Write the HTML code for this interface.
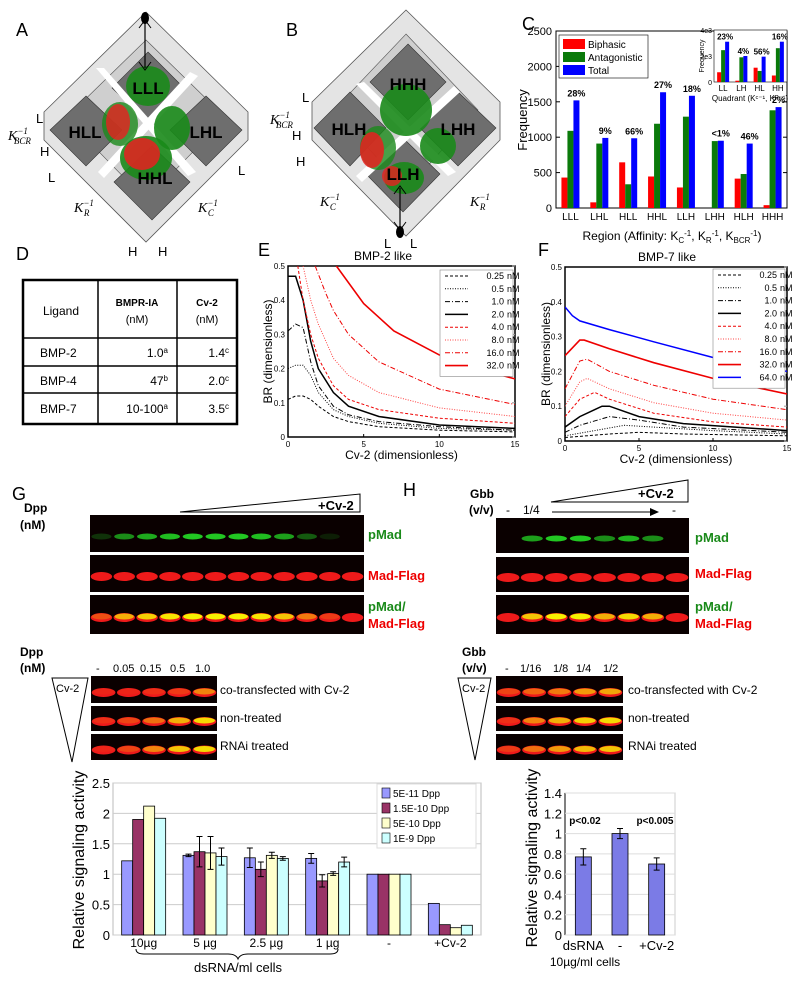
<!DOCTYPE html>
<html><head><meta charset="utf-8"><style>
html,body{margin:0;padding:0;background:#fff;}
svg{display:block;font-family:"Liberation Sans",sans-serif;}
</style></head><body>
<svg id="fig" width="800" height="981" viewBox="0 0 800 981" xmlns="http://www.w3.org/2000/svg">
<g>
<text x="16" y="36" font-size="18">A</text>
<polygon points="146,12 248,112 248,140 146,242 44,140 44,112" fill="#e4e4e4" stroke="#555" stroke-width="0.8"/>
<polygon points="146,40 226,118 146,200 66,118" fill="#cfcfcf" stroke="#555" stroke-width="0.6"/>
<polygon points="148,52 184,88 148,122 112,88" fill="#6e6e6e" stroke="#333" stroke-width="0.6"/>
<polygon points="86,96 122,130 86,166 50,130" fill="#6e6e6e" stroke="#333" stroke-width="0.6"/>
<polygon points="206,96 242,130 206,166 170,130" fill="#6e6e6e" stroke="#333" stroke-width="0.6"/>
<polygon points="152,146 190,182 152,220 114,182" fill="#6e6e6e" stroke="#333" stroke-width="0.6"/>
<polygon points="96,68 104,68 196,172 188,176" fill="#fff"/>
<polygon points="190,72 198,76 104,178 98,172" fill="#fff"/>
<ellipse cx="148" cy="86" rx="22" ry="20" fill="#1a8a1a" opacity="0.9"/>
<ellipse cx="172" cy="128" rx="18" ry="22" fill="#1a8a1a" opacity="0.9"/>
<ellipse cx="120" cy="124" rx="18" ry="22" fill="#1a8a1a" opacity="0.8"/>
<ellipse cx="118" cy="122" rx="12" ry="18" fill="#e82020" opacity="0.8"/>
<ellipse cx="146" cy="158" rx="26" ry="22" fill="#1a8a1a" opacity="0.9"/>
<ellipse cx="142" cy="154" rx="18" ry="16" fill="#e82020" opacity="0.85"/>
<text x="148" y="94" font-size="17" font-weight="bold" text-anchor="middle">LLL</text>
<text x="85" y="138" font-size="17" font-weight="bold" text-anchor="middle">HLL</text>
<text x="206" y="138" font-size="17" font-weight="bold" text-anchor="middle">LHL</text>
<text x="155" y="184" font-size="17" font-weight="bold" text-anchor="middle">HHL</text>
<line x1="145" y1="22" x2="145" y2="68" stroke="#000" stroke-width="1.2"/>
<path d="M139,28 L145,20 L151,28 M139,62 L145,70 L151,62" stroke="#000" fill="none"/>
<ellipse cx="145" cy="18" rx="4" ry="6" fill="#000"/>
<text x="36" y="123" font-size="13">L</text>
<text x="8" y="140" font-size="14" font-style="italic" font-family="Liberation Serif">K<tspan font-size="9" dy="-6">−1</tspan><tspan font-size="9" dx="-14" dy="10">BCR</tspan></text>
<text x="40" y="156" font-size="13">H</text>
<text x="48" y="182" font-size="13">L</text>
<text x="74" y="212" font-size="14" font-style="italic" font-family="Liberation Serif">K<tspan font-size="9" dy="-6">−1</tspan><tspan font-size="9" dx="-10" dy="10">R</tspan></text>
<text x="198" y="212" font-size="14" font-style="italic" font-family="Liberation Serif">K<tspan font-size="9" dy="-6">−1</tspan><tspan font-size="9" dx="-10" dy="10">C</tspan></text>
<text x="238" y="175" font-size="13">L</text>
<text x="128" y="256" font-size="13">H</text>
<text x="158" y="256" font-size="13">H</text>
</g>
<g>
<text x="286" y="36" font-size="18">B</text>
<polygon points="406,10 500,102 500,140 406,236 312,140 312,102" fill="#e4e4e4" stroke="#555" stroke-width="0.8"/>
<polygon points="406,34 478,110 406,190 334,110" fill="#cfcfcf" stroke="#555" stroke-width="0.6"/>
<polygon points="408,44 446,82 408,120 370,82" fill="#6e6e6e" stroke="#333" stroke-width="0.6"/>
<polygon points="350,92 386,128 350,166 314,128" fill="#6e6e6e" stroke="#333" stroke-width="0.6"/>
<polygon points="458,92 496,128 458,166 420,128" fill="#6e6e6e" stroke="#333" stroke-width="0.6"/>
<polygon points="403,138 440,174 403,212 366,174" fill="#6e6e6e" stroke="#333" stroke-width="0.6"/>
<polygon points="356,84 364,82 456,172 448,176" fill="#fff"/>
<polygon points="454,86 460,92 362,182 356,176" fill="#fff"/>
<ellipse cx="406" cy="110" rx="26" ry="26" fill="#1a8a1a" opacity="0.9"/>
<ellipse cx="438" cy="146" rx="18" ry="18" fill="#1a8a1a" opacity="0.9"/>
<ellipse cx="378" cy="148" rx="18" ry="22" fill="#1a8a1a" opacity="0.8"/>
<ellipse cx="372" cy="150" rx="12" ry="18" fill="#e82020" opacity="0.85"/>
<ellipse cx="404" cy="178" rx="20" ry="16" fill="#1a8a1a" opacity="0.9"/>
<ellipse cx="392" cy="176" rx="10" ry="10" fill="#e82020" opacity="0.8"/>
<text x="408" y="90" font-size="17" font-weight="bold" text-anchor="middle">HHH</text>
<text x="349" y="135" font-size="17" font-weight="bold" text-anchor="middle">HLH</text>
<text x="458" y="135" font-size="17" font-weight="bold" text-anchor="middle">LHH</text>
<text x="403" y="180" font-size="17" font-weight="bold" text-anchor="middle">LLH</text>
<line x1="400" y1="188" x2="400" y2="228" stroke="#000" stroke-width="1.2"/>
<path d="M394,194 L400,186 L406,194 M394,222 L400,230 L406,222" stroke="#000" fill="none"/>
<ellipse cx="400" cy="232" rx="4" ry="6" fill="#000"/>
<text x="302" y="102" font-size="13">L</text>
<text x="270" y="124" font-size="14" font-style="italic" font-family="Liberation Serif">K<tspan font-size="9" dy="-6">−1</tspan><tspan font-size="9" dx="-14" dy="10">BCR</tspan></text>
<text x="292" y="140" font-size="13">H</text>
<text x="296" y="166" font-size="13">H</text>
<text x="320" y="206" font-size="14" font-style="italic" font-family="Liberation Serif">K<tspan font-size="9" dy="-6">−1</tspan><tspan font-size="9" dx="-10" dy="10">C</tspan></text>
<text x="470" y="206" font-size="14" font-style="italic" font-family="Liberation Serif">K<tspan font-size="9" dy="-6">−1</tspan><tspan font-size="9" dx="-10" dy="10">R</tspan></text>
<text x="384" y="248" font-size="13">L</text>
<text x="410" y="248" font-size="13">L</text>
</g>
<g>
<text x="522" y="30" font-size="18">C</text>
<g id="chartC"></g>
</g>
<g font-size="12">
<text x="16" y="260" font-size="18">D</text>
<rect x="23" y="280" width="214" height="144" fill="#fff" stroke="#000" stroke-width="2.5"/>
<line x1="98" y1="280" x2="98" y2="424" stroke="#000" stroke-width="1.5"/>
<line x1="177" y1="280" x2="177" y2="424" stroke="#000" stroke-width="1.5"/>
<line x1="23" y1="338" x2="237" y2="338" stroke="#000" stroke-width="1.5"/>
<line x1="23" y1="366" x2="237" y2="366" stroke="#000" stroke-width="1.5"/>
<line x1="23" y1="393" x2="237" y2="393" stroke="#000" stroke-width="1.5"/>
<text x="61" y="315" text-anchor="middle">Ligand</text>
<text x="137" y="306" text-anchor="middle" font-weight="bold" font-size="10">BMPR-IA</text>
<text x="137" y="323" text-anchor="middle" font-size="11">(nM)</text>
<text x="207" y="306" text-anchor="middle" font-weight="bold" font-size="10">Cv-2</text>
<text x="207" y="323" text-anchor="middle" font-size="11">(nM)</text>
<text x="40" y="357">BMP-2</text><text x="40" y="385">BMP-4</text><text x="40" y="413">BMP-7</text>
<text x="168" y="357" text-anchor="end">1.0<tspan font-size="8" dy="-4">a</tspan></text>
<text x="168" y="385" text-anchor="end">47<tspan font-size="8" dy="-4">b</tspan></text>
<text x="168" y="413" text-anchor="end">10-100<tspan font-size="8" dy="-4">a</tspan></text>
<text x="229" y="357" text-anchor="end">1.4<tspan font-size="8" dy="-4">c</tspan></text>
<text x="229" y="385" text-anchor="end">2.0<tspan font-size="8" dy="-4">c</tspan></text>
<text x="229" y="413" text-anchor="end">3.5<tspan font-size="8" dy="-4">c</tspan></text>
</g>
<g>
<text x="258" y="256" font-size="18">E</text>
<g id="chartE"></g>
</g>
<g>
<text x="538" y="256" font-size="18">F</text>
<g id="chartF"></g>
</g>
<g font-weight="bold" font-size="12">
<text x="12" y="500" font-size="18" font-weight="normal">G</text>
<text x="24" y="512">Dpp</text><text x="20" y="529">(nM)</text>
<text x="97" y="529" font-weight="normal">-</text>
<text x="113" y="529" font-weight="normal">0.5</text>
<text x="144" y="529" font-weight="normal">1</text>
<text x="166" y="529" font-weight="normal">2</text>
<polygon points="180,512 360,494 360,512" fill="#fff" stroke="#000"/>
<text x="318" y="510" font-size="13">+Cv-2</text>
<line x1="180" y1="525" x2="348" y2="525" stroke="#000"/>
<polygon points="348,521 356,525 348,529" fill="#000"/>
<text x="340" y="530" font-weight="normal">-</text>
<text x="368" y="539" fill="#1a8a1a" font-size="13">pMad</text>
<text x="368" y="580" fill="#e00" font-size="13">Mad-Flag</text>
<text x="368" y="611" fill="#1a8a1a" font-size="13">pMad/</text>
<text x="368" y="628" fill="#e00" font-size="13">Mad-Flag</text>
<text x="20" y="656">Dpp</text><text x="20" y="672">(nM)</text>
<g font-weight="normal" font-size="11"><text x="96" y="672">-</text><text x="113" y="672">0.05</text><text x="140" y="672">0.15</text><text x="170" y="672">0.5</text><text x="195" y="672">1.0</text></g>
<polygon points="52,678 88,678 72,762" fill="#fff" stroke="#000"/>
<text x="56" y="692" font-weight="normal" font-size="11">Cv-2</text>
<g font-weight="normal" font-size="12"><text x="220" y="694">co-transfected with Cv-2</text><text x="220" y="722">non-treated</text><text x="220" y="750">RNAi treated</text></g>
</g>
<g font-weight="bold" font-size="12">
<text x="403" y="496" font-size="18" font-weight="normal">H</text>
<text x="470" y="498">Gbb</text><text x="469" y="514">(v/v)</text>
<text x="506" y="514" font-weight="normal">-</text><text x="523" y="514" font-weight="normal">1/4</text>
<polygon points="551,502 688,480 688,502" fill="#fff" stroke="#000"/>
<text x="638" y="498" font-size="13">+Cv-2</text>
<line x1="552" y1="512" x2="650" y2="512" stroke="#000"/>
<polygon points="650,508 659,512 650,516" fill="#000"/>
<text x="672" y="514" font-weight="normal">-</text>
<text x="695" y="542" fill="#1a8a1a" font-size="13">pMad</text>
<text x="695" y="578" fill="#e00" font-size="13">Mad-Flag</text>
<text x="695" y="611" fill="#1a8a1a" font-size="13">pMad/</text>
<text x="695" y="628" fill="#e00" font-size="13">Mad-Flag</text>
<text x="462" y="656">Gbb</text><text x="462" y="672">(v/v)</text>
<g font-weight="normal" font-size="11"><text x="505" y="672">-</text><text x="520" y="672">1/16</text><text x="553" y="672">1/8</text><text x="576" y="672">1/4</text><text x="603" y="672">1/2</text></g>
<polygon points="458,678 491,678 475,760" fill="#fff" stroke="#000"/>
<text x="462" y="692" font-weight="normal" font-size="11">Cv-2</text>
<g font-weight="normal" font-size="12"><text x="628" y="694">co-transfected with Cv-2</text><text x="628" y="722">non-treated</text><text x="628" y="750">RNAi treated</text></g>
</g>
<g id="blots"></g>
<g id="chartG"></g>
<g id="chartH"></g>
</svg>
<script>
const regions = ["LLL","LHL","HLL","HHL","LLH","LHH","HLH","HHH"];
const biphasic = [430,80,645,445,290,0,415,40];
const antagonistic = [1090,910,335,1190,1290,945,480,1380];
const total = [1520,990,985,1635,1585,950,910,1425];
const pctLabels = ["28%","9%","66%","27%","18%","<1%","46%","2%"];
const freqTicks = [0,500,1000,1500,2000,2500];
const quadrants = ["LL","LH","HL","HH"];
const inBiphasic = [750,100,1100,500];
const inAntag = [2450,1900,850,2600];
const inTotal = [3100,2000,1950,3100];
const inPct = ["23%","4%","56%","16%"];
const eSeriesNames = ["0.25","0.5","1.0","2.0","4.0","8.0","16.0","32.0"];
const e025 = [[0,0.11],[0.5,0.12],[1,0.12],[1.5,0.11],[2,0.09],[3,0.06],[4,0.045],[6,0.03],[10,0.02],[15,0.015]];
const e05 = [[0,0.2],[0.5,0.21],[1,0.21],[1.5,0.18],[2,0.13],[3,0.08],[4,0.06],[6,0.04],[10,0.025],[15,0.02]];
const e1 = [[0,0.31],[0.5,0.33],[1,0.32],[1.5,0.22],[2,0.15],[3,0.09],[4,0.065],[6,0.045],[10,0.03],[15,0.02]];
const e2 = [[0,0.47],[0.5,0.47],[1,0.4],[1.5,0.28],[2,0.2],[3,0.13],[4,0.09],[6,0.06],[10,0.035],[15,0.025]];
const e4 = [[0.65,0.5],[1,0.4],[1.5,0.3],[2,0.23],[3,0.15],[4,0.11],[6,0.08],[10,0.055],[15,0.04]];
const e8 = [[1.0,0.5],[1.5,0.4],[2,0.33],[3,0.23],[4,0.18],[6,0.13],[10,0.085],[15,0.06]];
const e16 = [[1.8,0.5],[2.5,0.42],[3,0.37],[4,0.3],[6,0.22],[10,0.14],[15,0.095]];
const e32 = [[3.2,0.5],[5,0.39],[7,0.31],[10,0.24],[12.5,0.2],[15,0.17]];
const fSeriesNames = ["0.25","0.5","1.0","2.0","4.0","8.0","16.0","32.0","64.0"];
const f025 = [[0,0.01],[3,0.02],[5,0.025],[8,0.02],[15,0.015]];
const f05 = [[0,0.015],[2,0.03],[4,0.045],[6,0.04],[10,0.03],[15,0.02]];
const f1 = [[0,0.025],[1,0.045],[3,0.07],[5,0.06],[8,0.04],[15,0.025]];
const f2 = [[0,0.04],[1,0.07],[2,0.09],[2.5,0.1],[3,0.1],[5,0.07],[8,0.05],[15,0.03]];
const f4 = [[0,0.07],[1,0.12],[2,0.14],[3,0.12],[6,0.08],[10,0.055],[15,0.04]];
const f8 = [[0,0.1],[1,0.17],[1.5,0.18],[3,0.15],[6,0.11],[10,0.08],[15,0.06]];
const f16 = [[0,0.15],[1,0.23],[1.5,0.235],[3,0.2],[6,0.16],[10,0.12],[15,0.09]];
const f32 = [[0,0.245],[1,0.29],[1.3,0.29],[3,0.265],[6,0.225],[10,0.18],[15,0.135]];
const f64 = [[0,0.385],[0.5,0.36],[1,0.345],[3,0.32],[6,0.285],[10,0.24],[15,0.2]];
const brTicks = [0,0.1,0.2,0.3,0.4,0.5];
const cvTicks = [0,5,10,15];
const gGroups = ["10µg","5 µg","2.5 µg","1 µg","-","+Cv-2"];
const gSeriesNames = ["5E-11 Dpp","1.5E-10 Dpp","5E-10 Dpp","1E-9 Dpp"];
const g5e11 = [1.22,1.31,1.27,1.26,1,0.52];
const g15e10 = [1.9,1.37,1.08,0.89,1,0.17];
const g5e10 = [2.12,1.35,1.31,1.01,1,0.12];
const g1e9 = [1.92,1.29,1.26,1.2,1,0.16];
const gErr5e11 = [0,0.02,0.16,0.08,0,0];
const gErr15e10 = [0,0.25,0.12,0.1,0,0];
const gErr5e10 = [0,0.27,0.05,0.03,0,0];
const gErr1e9 = [0,0.14,0.03,0.08,0,0];
const gTicks = [0,0.5,1,1.5,2,2.5];
const hCats = ["dsRNA","-","+Cv-2"];
const hVals = [0.77,1.0,0.7];
const hErr = [0.08,0.05,0.06];
const hTicks = [0,0.2,0.4,0.6,0.8,1,1.2,1.4];
const gTopGreen = [0.25,0.7,0.85,0.95,1,1,1,0.95,0.8,0.45,0.15,0];
const hTopGreen = [0,0.8,1,1,0.7,0.9,0.7,0];
const gSmallCo = [0.05,0.05,0.1,0.15,0.5];
const gSmallNon = [0.1,0.2,0.4,0.7,0.9];
const gSmallRnai = [0.05,0.2,0.5,0.8,0.9];
const hSmallCo = [0.2,0.35,0.45,0.6,0.65];
const hSmallNon = [0.1,0.5,0.7,0.85,0.9];
const hSmallRnai = [0.15,0.4,0.6,0.75,0.8];

const NS="http://www.w3.org/2000/svg";
function mk(parent,tag,attrs,text){const e=document.createElementNS(NS,tag);for(const k in attrs)e.setAttribute(k,attrs[k]);if(text!==undefined)e.textContent=text;parent.appendChild(e);return e;}
function lin(d0,d1,r0,r1){return v=>r0+(v-d0)/(d1-d0)*(r1-r0);}

(function(){
 const g=document.getElementById('chartC');
 const L=556,R=787,T=31,B=208;
 const y=lin(0,2500,B,T);
 const band=(R-L)/regions.length;
 const x=i=>L+band*(i+0.5);
 mk(g,'rect',{x:L,y:T,width:R-L,height:B-T,fill:'#fff',stroke:'#000','stroke-width':1});
 freqTicks.forEach(t=>{mk(g,'line',{x1:L,x2:L+4,y1:y(t),y2:y(t),stroke:'#000'});mk(g,'line',{x1:R,x2:R-4,y1:y(t),y2:y(t),stroke:'#000'});
  mk(g,'text',{x:L-4,y:y(t)+4,'font-size':11,'text-anchor':'end'},String(t));});
 const yl=mk(g,'text',{x:527,y:120,'font-size':13,'text-anchor':'middle',transform:'rotate(-90 527 120)'},'Frequency');
 
 
 const w=6;
 regions.forEach((r,i)=>{
  const cx=x(i);
  [[biphasic,'#f00',-w],[antagonistic,'#0a7a0a',0],[total,'#00f',w]].forEach(([arr,c,off])=>{
   const b=mk(g,'rect',{x:cx+off-w/2,y:y(arr[i]),width:w,height:B-y(arr[i]),fill:c});
   
   
  });
  mk(g,'text',{x:cx+w,y:y(total[i])-4,'font-size':9,'font-weight':'bold','text-anchor':'middle'},pctLabels[i]);
  mk(g,'text',{x:cx,y:B+12,'font-size':10,'text-anchor':'middle'},r);
 });
 const xt=mk(g,'text',{x:672,y:240,'font-size':12,'text-anchor':'middle'},'');
 xt.innerHTML='Region (Affinity: K<tspan font-size="8" dy="3">C</tspan><tspan font-size="8" dy="-7">-1</tspan><tspan dy="4">, K</tspan><tspan font-size="8" dy="3">R</tspan><tspan font-size="8" dy="-7">-1</tspan><tspan dy="4">, K</tspan><tspan font-size="8" dy="3">BCR</tspan><tspan font-size="8" dy="-7">-1</tspan><tspan dy="4">)</tspan>';
 
 
 const lg=mk(g,'g',{});
 
 
 mk(lg,'rect',{x:559,y:35,width:89,height:43,fill:'#fff',stroke:'#000','stroke-width':0.6});
 [['Biphasic','#f00'],['Antagonistic','#0a7a0a'],['Total','#00f']].forEach(([n,c],k)=>{
  mk(lg,'rect',{x:563,y:39+k*13,width:22,height:10,fill:c});
  mk(lg,'text',{x:588,y:48+k*13,'font-size':10},n);
 });
 const iL=714,iR=787,iT=30,iB=82;
 const iy=lin(0,4000,iB,iT);const ib=(iR-iL)/4;
 mk(g,'rect',{x:iL,y:iT,width:iR-iL,height:iB-iT,fill:'#fff',stroke:'#000','stroke-width':0.6});
 [[0,'0'],[2000,'2e3'],[4000,'4e3']].forEach(([v,s])=>mk(g,'text',{x:iL-2,y:iy(v)+3,'font-size':7,'text-anchor':'end'},s));
 mk(g,'text',{x:704,y:56,'font-size':7,'text-anchor':'middle',transform:'rotate(-90 704 56)'},'Frequency');
 quadrants.forEach((q,i)=>{
  const cx=iL+ib*(i+0.5);const w2=4;
  [[inBiphasic,'#f00',-w2],[inAntag,'#0a7a0a',0],[inTotal,'#00f',w2]].forEach(([arr,c,off])=>{
   const b=mk(g,'rect',{x:cx+off-w2/2,y:iy(arr[i]),width:w2,height:iB-iy(arr[i]),fill:c});
   
   
  });
  mk(g,'text',{x:cx+2,y:iy(inTotal[i])-2,'font-size':8,'font-weight':'bold','text-anchor':'middle'},inPct[i]);
  mk(g,'text',{x:cx,y:iB+9,'font-size':8,'text-anchor':'middle'},q);
 });
 mk(g,'text',{x:750,y:101,'font-size':8,'text-anchor':'middle'},'Quadrant (K\u1D9C\u207B\u00B9, K\u1D3F\u207B\u00B9)');
})();

function lineChart(id,L,R,T,B,title,titleX,series,names,styles,legBox,ylabX){
 const g=document.getElementById(id);
 const x=lin(0,15,L,R),y=lin(0,0.5,B,T);
 mk(g,'rect',{x:L,y:T,width:R-L,height:B-T,fill:'#fff',stroke:'#000','stroke-width':1.5});
 mk(g,'text',{x:titleX,y:T-6,'font-size':12,'text-anchor':'middle'},title);
 brTicks.forEach(t=>{mk(g,'text',{x:L-3,y:y(t)+3,'font-size':8,'text-anchor':'end'},String(t));mk(g,'line',{x1:R,x2:R-3,y1:y(t),y2:y(t),stroke:'#999'});});
 cvTicks.forEach(t=>{mk(g,'text',{x:x(t),y:B+10,'font-size':8,'text-anchor':'middle'},String(t));mk(g,'line',{x1:x(t),x2:x(t),y1:B,y2:B-3,stroke:'#000'});});
 mk(g,'text',{x:(L+R)/2,y:B+22,'font-size':12,'text-anchor':'middle'},'Cv-2 (dimensionless)');
 mk(g,'text',{x:ylabX,y:(T+B)/2,'font-size':12,'text-anchor':'middle',transform:`rotate(-90 ${ylabX} ${(T+B)/2})`},'BR (dimensionless)');
 const cp=mk(g,'clipPath',{id:id+'clip'});mk(cp,'rect',{x:L,y:T,width:R-L,height:B-T});
 series.forEach((s,i)=>{
  let d='';s.forEach((p,k)=>{d+=(k?'L':'M')+x(p[0]).toFixed(1)+','+y(p[1]).toFixed(1);});
  const st=styles[i];
  const p=mk(g,'path',{d:d,fill:'none',stroke:st[0],'stroke-width':st[2],'stroke-dasharray':st[1],'clip-path':`url(#${id}clip)`});
  
  
 });
 const lg=mk(g,'g',{});
 
 
 mk(lg,'rect',{x:legBox[0],y:legBox[1],width:R-legBox[0]-2,height:names.length*12.8+4,fill:'#fff',stroke:'#888','stroke-width':0.6});
 names.forEach((n,i)=>{const yy=legBox[1]+9+i*12.8;const st=styles[i];
  mk(lg,'line',{x1:legBox[0]+5,x2:legBox[0]+28,y1:yy-3,y2:yy-3,stroke:st[0],'stroke-width':st[2],'stroke-dasharray':st[1]});
  mk(lg,'text',{x:legBox[0]+64,y:yy,'font-size':9,'text-anchor':'end'},n);
  mk(lg,'text',{x:legBox[0]+55,y:yy,'font-size':9,dx:12},'nM');
 });
}
const blackStyles=[['#000','3,2',1],['#000','1,1.5',1],['#000','5,2,1,2',1],['#000','none',1.5]];
const redStyles=[['#e00','3,2',1],['#f44','1,1.5',1],['#e00','5,2,1,2',1],['#e00','none',1.6]];
lineChart('chartE',288,515,266,437,'BMP-2 like',383,[e025,e05,e1,e2,e4,e8,e16,e32],eSeriesNames,blackStyles.concat(redStyles),[440,270],272);
lineChart('chartF',565,787,267,441,'BMP-7 like',667,[f025,f05,f1,f2,f4,f8,f16,f32,f64],fSeriesNames,blackStyles.concat(redStyles,[['#00f','none',1.5]]),[713,269],550);

(function(){
 const g=document.getElementById('blots');
 function blot(x0,x1,y0,y1,vals,mode,name){
  const r=mk(g,'rect',{x:x0,y:y0,width:x1-x0,height:y1-y0,fill:'#0a0000'});
  
  
  const n=vals.length,lw=(x1-x0)/n;const cy=(y0+y1)/2+3;
  vals.forEach((v,i)=>{
   const cx=x0+lw*(i+0.5);
   if(mode==='green'){ if(v>0.02) mk(g,'ellipse',{cx:cx,cy:cy,rx:lw*0.44,ry:3,fill:'#22c722',opacity:v}); }
   else if(mode==='red'){ mk(g,'ellipse',{cx:cx,cy:cy,rx:lw*0.47,ry:4.5,fill:'#ee1a1a'}); }
   else { mk(g,'ellipse',{cx:cx,cy:cy,rx:lw*0.47,ry:4.5,fill:'#ee1a1a'});
     if(v>0.02) mk(g,'ellipse',{cx:cx,cy:cy-1,rx:lw*0.42,ry:3,fill:'#f5f000',opacity:v}); }
  });
 }
 blot(90,364,515,552,gTopGreen,'green','g-pmad-blot');
 blot(90,364,555,592,gTopGreen,'red','g-madflag-blot');
 blot(90,364,595,634,gTopGreen,'merge','g-merge-blot');
 blot(496,689,518,553,hTopGreen,'green','h-pmad-blot');
 blot(496,689,557,592,hTopGreen,'red','h-madflag-blot');
 blot(496,689,595,634,hTopGreen,'merge','h-merge-blot');
 blot(91,217,676,703,gSmallCo,'merge','g-cotransfected-blot');
 blot(91,217,706,731,gSmallNon,'merge','g-nontreated-blot');
 blot(91,217,734,760,gSmallRnai,'merge','g-rnai-blot');
 blot(496,623,676,703,hSmallCo,'merge','h-cotransfected-blot');
 blot(496,623,706,731,hSmallNon,'merge','h-nontreated-blot');
 blot(496,623,734,760,hSmallRnai,'merge','h-rnai-blot');
})();

(function(){
 const g=document.getElementById('chartG');
 const L=113,R=481,T=783,B=935;
 const y=lin(0,2.5,B,T);const band=(R-L)/gGroups.length;const bw=11;
 mk(g,'rect',{x:L,y:T,width:R-L,height:B-T,fill:'#fff',stroke:'#bbb'});
 gTicks.forEach(t=>{mk(g,'line',{x1:L,x2:R,y1:y(t),y2:y(t),stroke:'#ccc'});mk(g,'text',{x:L-3,y:y(t)+5,'font-size':13,'text-anchor':'end'},String(t));});
 const series=[g5e11,g15e10,g5e10,g1e9],errs=[gErr5e11,gErr15e10,gErr5e10,gErr1e9];
 const cols=['#9999ff','#993366','#ffffcc','#ccffff'];
 gGroups.forEach((gr,i)=>{
  const cx=L+band*(i+0.5);
  series.forEach((s,k)=>{
   const bx=cx+(k-2)*bw;
   const b=mk(g,'rect',{x:bx,y:y(s[i]),width:bw,height:B-y(s[i]),fill:cols[k],stroke:'#000','stroke-width':0.8});
   
   
   const e=errs[k][i];
   if(e>0){const ex=bx+bw/2;mk(g,'path',{d:`M${ex},${y(s[i]+e)}V${y(s[i]-e)}M${ex-3},${y(s[i]+e)}h6M${ex-3},${y(s[i]-e)}h6`,stroke:'#000','stroke-width':1,fill:'none'});}
  });
  mk(g,'text',{x:cx,y:B+12,'font-size':12,'text-anchor':'middle'},gr);
 });
 mk(g,'path',{d:'M136,949 q0,5 8,5 H228 q8,0 10,5 q2,-5 10,-5 H330 q8,0 8,-5',fill:'none',stroke:'#000'});
 mk(g,'text',{x:238,y:972,'font-size':13,'text-anchor':'middle'},'dsRNA/ml cells');
 mk(g,'text',{x:84,y:860,'font-size':16,'text-anchor':'middle',transform:'rotate(-90 84 860)'},'Relative signaling activity');
 const lg=mk(g,'g',{});
 
 
 mk(lg,'rect',{x:377,y:784,width:99,height:64,fill:'#fff',stroke:'#ddd'});
 gSeriesNames.forEach((n,k)=>{mk(lg,'rect',{x:382,y:788+k*15,width:8,height:10,fill:cols[k],stroke:'#000','stroke-width':0.6});
  mk(lg,'text',{x:393,y:797+k*15,'font-size':10},n);});
})();

(function(){
 const g=document.getElementById('chartH');
 const L=565,R=675,T=793,B=935;
 const y=lin(0,1.4,B,T);const band=(R-L)/hCats.length;const bw=16;
 mk(g,'rect',{x:L,y:T,width:R-L,height:B-T,fill:'#fff',stroke:'#ccc'});
 mk(g,'line',{x1:L,x2:L,y1:T,y2:B,stroke:'#000'});
 hTicks.forEach(t=>{mk(g,'line',{x1:L,x2:R,y1:y(t),y2:y(t),stroke:'#ddd'});mk(g,'text',{x:L-3,y:y(t)+5,'font-size':13,'text-anchor':'end'},String(t));});
 hCats.forEach((c,i)=>{
  const cx=L+band*(i+0.5);
  const b=mk(g,'rect',{x:cx-bw/2,y:y(hVals[i]),width:bw,height:B-y(hVals[i]),fill:'#7b7be6',stroke:'#000','stroke-width':0.8});
  
  
  const e=hErr[i];
  mk(g,'path',{d:`M${cx},${y(hVals[i]+e)}V${y(hVals[i]-e)}M${cx-3},${y(hVals[i]+e)}h6M${cx-3},${y(hVals[i]-e)}h6`,stroke:'#000',fill:'none'});
  mk(g,'text',{x:cx,y:B+15,'font-size':13,'text-anchor':'middle'},c);
 });
 mk(g,'text',{x:585,y:824,'font-size':10,'font-weight':'bold','text-anchor':'middle'},'p<0.02');
 mk(g,'text',{x:655,y:824,'font-size':10,'font-weight':'bold','text-anchor':'middle'},'p<0.005');
 mk(g,'text',{x:585,y:966,'font-size':12,'text-anchor':'middle'},'10µg/ml cells');
 mk(g,'text',{x:537,y:858,'font-size':16,'text-anchor':'middle',transform:'rotate(-90 537 858)'},'Relative signaling activity');
})();
</script>
</body></html>
